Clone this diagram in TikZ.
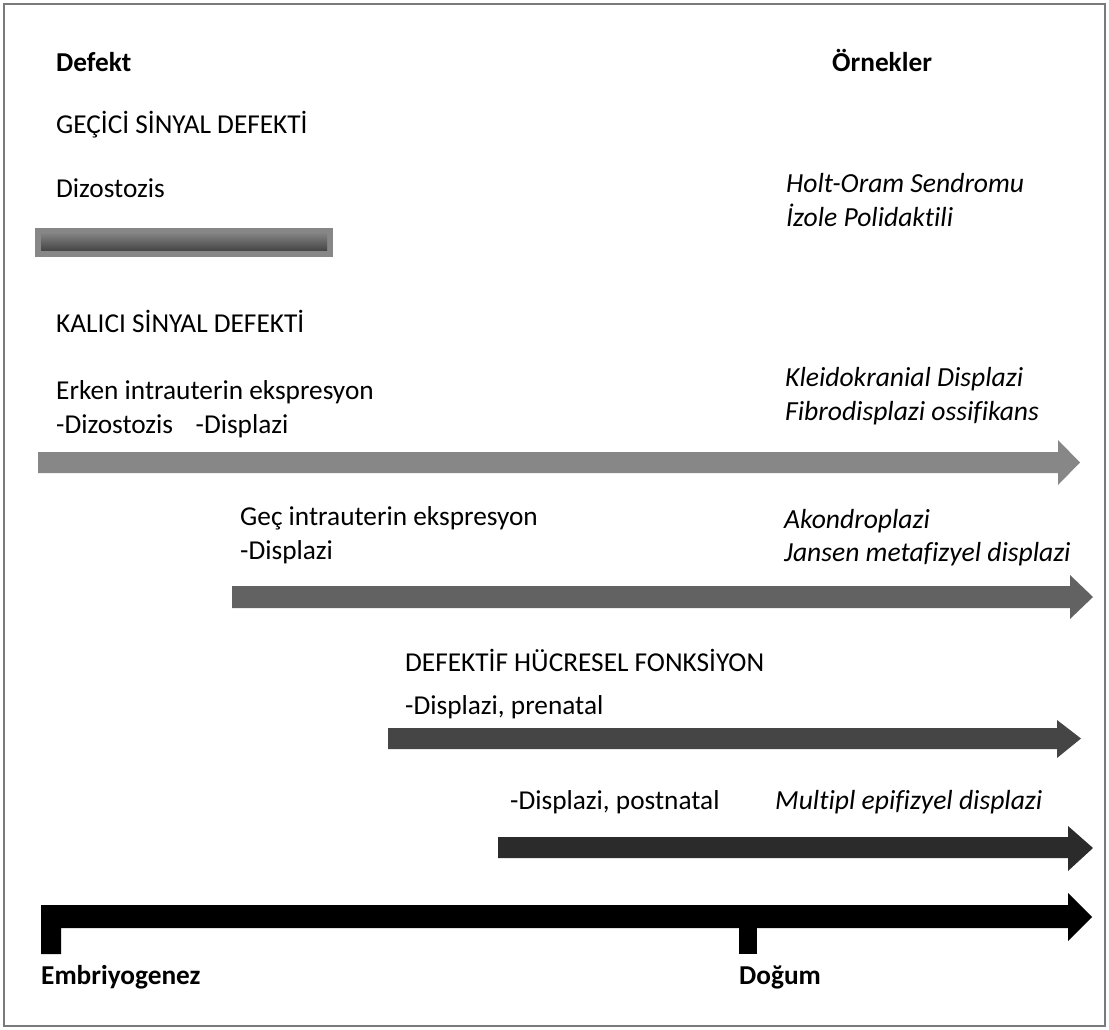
\documentclass[tikz,border=0pt]{standalone}
\usepackage{fontspec}
\setmainfont{Carlito}[Ligatures={NoCommon}]
\begin{document}
\begin{tikzpicture}[x=1pt,y=-1pt,
  txt/.style={anchor=base west,inner sep=0pt,font=\fontsize{27.3}{34}\selectfont},
  bold/.style={txt,font=\fontsize{27.3}{34}\selectfont\bfseries},
  ital/.style={txt,font=\fontsize{27.6}{34}\selectfont\itshape}]
\definecolor{aone}{HTML}{878787}
\definecolor{atwo}{HTML}{626262}
\definecolor{athree}{HTML}{454545}
\definecolor{afour}{HTML}{2B2B2B}
\definecolor{frame}{HTML}{7A7A7A}
\useasboundingbox (0,0) rectangle (1109,1030);
\fill[white] (0,0) rectangle (1109,1030);
\draw[frame,line width=2pt] (4,4) rectangle (1105,1026);
% headings
\node[bold] (defekt) at (56,72) {Defekt};
\node[bold] (ornek) at (832,72) {Örnekler};
\node[txt] (gecici) at (56,134) {GEÇİCİ SİNYAL DEFEKTİ};
\node[txt] (dizo) at (56,197) {Dizostozis};
\node[ital] (holt) at (786,193) {Holt-Oram Sendromu};
\node[ital] (izole) at (786,226) {İzole Polidaktili};
% short bar
\fill[aone] (35,228) rectangle (333,257);
\shade[top color=aone,bottom color=black!72] (41,232) rectangle (327,250);
\node[txt] (kalici) at (56,332) {KALICI SİNYAL DEFEKTİ};
\node[txt] (erken) at (56,399) {Erken intrauterin ekspresyon};
\node[txt] (erken2) at (56,433) {-Dizostozis\hspace{0.6em} -Displazi};
\node[ital] (kleido) at (785,386) {Kleidokranial Displazi};
\node[ital] (fibro) at (785,420) {Fibrodisplazi ossifikans};
% arrow 1
\fill[aone] (38,452) -- (1058,452) -- (1058,440) -- (1080,462.5) -- (1058,485) -- (1058,473) -- (38,473) -- cycle;
\node[txt] (gec) at (240,525) {Geç intrauterin ekspresyon};
\node[txt] (gec2) at (240,559) {-Displazi};
\node[ital] (akon) at (784,528) {Akondroplazi};
\node[ital] (jansen) at (784,561) {Jansen metafizyel displazi};
% arrow 2
\fill[atwo] (232,586) -- (1070,586) -- (1070,575) -- (1093,597) -- (1070,619) -- (1070,608) -- (232,608) -- cycle;
\node[txt] (hucre) at (405,671) {DEFEKTİF HÜCRESEL FONKSİYON};
\node[txt] (pren) at (405,714) {-Displazi, prenatal};
% arrow 3
\fill[athree] (388,728) -- (1057,728) -- (1057,720) -- (1081,738.5) -- (1057,758) -- (1057,749) -- (388,749) -- cycle;
\node[txt] (postn) at (510,809) {-Displazi, postnatal};
\node[ital] (multi) at (775,809) {Multipl epifizyel displazi};
% arrow 4
\fill[afour] (498,837) -- (1068,837) -- (1068,826) -- (1093,848) -- (1068,871) -- (1068,858) -- (498,858) -- cycle;
% timeline
\fill[black] (41,954) -- (41,905) -- (1068,905) -- (1068,893) -- (1092,917) -- (1068,941) -- (1068,928) -- (61,928) -- (61,954) -- cycle;
\fill[black] (739,927) rectangle (757,954);
\node[bold] (embr) at (41,984) {Embriyogenez};
\node[bold] (dogum) at (739,984) {Doğum};
\end{tikzpicture}
\end{document}
